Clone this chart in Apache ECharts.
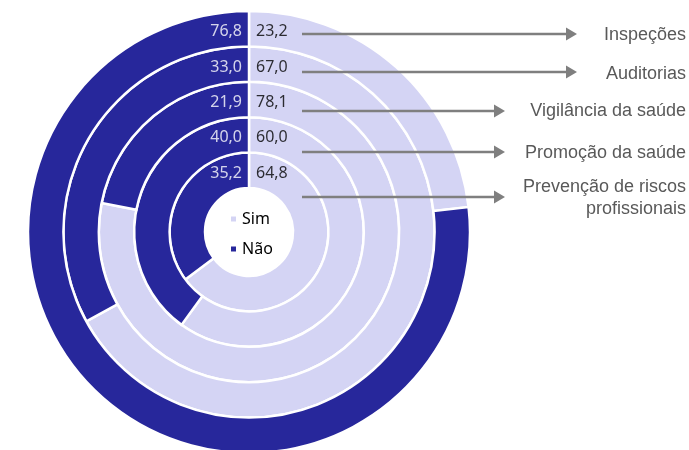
<!DOCTYPE html>
<html><head><meta charset="utf-8">
<script src="https://cdn.jsdelivr.net/npm/echarts@6/dist/echarts.min.js"></script>
<style>html,body{margin:0;padding:0;background:#fff}#c{width:689px;height:450px}</style>
</head><body><div id="c"></div>
<script>
// Rings, inner -> outer
const categories = ['Prevenção de riscos profissionais', 'Promoção da saúde', 'Vigilância da saúde', 'Auditorias', 'Inspeções'];
const simValues = [64.8, 60.0, 78.1, 67.0, 23.2];
const naoValues = [35.2, 40.0, 21.9, 33.0, 76.8];
const seriesNames = ['Sim', 'Não'];
// Annotation texts, top -> bottom (outer ring -> inner ring)
const annotationLabels = ['Inspeções', 'Auditorias', 'Vigilância da saúde', 'Promoção da saúde', 'Prevenção de riscos\nprofissionais'];

const LIGHT = '#D4D4F4', DARK = '#27279B', ARROW = '#7F7F7F', TEXTGRAY = '#595959';
const fmt = v => v.toFixed(1).replace('.', ',');

// annotation layout (positions only)
const arrowStartX = 302;
const arrowY = [34, 72, 111, 152, 197];
const arrowTip = [577, 577, 505, 505, 505];
const textY = [35, 74, 111, 153, 198];
const textRight = 686;

const graphics = [];
annotationLabels.forEach((t, i) => {
  const y = arrowY[i], tip = arrowTip[i];
  graphics.push({type: 'line', z: 100, silent: true,
    shape: {x1: arrowStartX, y1: y, x2: tip - 9, y2: y},
    style: {stroke: ARROW, lineWidth: 2.5}});
  graphics.push({type: 'polygon', z: 100, silent: true,
    shape: {points: [[tip - 11, y - 6.5], [tip, y], [tip - 11, y + 6.5]]},
    style: {fill: ARROW}});
  graphics.push({type: 'text', z: 100, silent: true,
    style: {text: t, x: textRight, y: textY[i], fill: TEXTGRAY,
      font: '18px "Liberation Sans", Arial, sans-serif', align: 'right', verticalAlign: 'middle', lineHeight: 22}});
});

const chart = echarts.init(document.getElementById('c'), null, {renderer: 'canvas'});
chart.setOption({
  animation: false,
  backgroundColor: '#fff',
  polar: {center: [249, 232], radius: [44, 221]},
  angleAxis: {type: 'value', min: 0, max: 100, startAngle: 90, clockwise: true, show: false},
  radiusAxis: {type: 'category', data: categories, show: false},
  legend: {
    data: seriesNames, orient: 'vertical', left: 224, top: 206,
    itemWidth: 7, itemHeight: 7, itemGap: 14, icon: 'rect', selectedMode: false, padding: 5,
    textStyle: {fontSize: 16, fontFamily: '"Noto Sans", sans-serif', color: '#000', padding: [0, 0, 0, 0]}
  },
  series: [
    {type: 'bar', name: seriesNames[0], coordinateSystem: 'polar', stack: 'r', data: simValues,
      barCategoryGap: '0%', itemStyle: {color: LIGHT, borderColor: '#fff', borderWidth: 2.5}},
    {type: 'bar', name: seriesNames[1], coordinateSystem: 'polar', stack: 'r', data: naoValues,
      barCategoryGap: '0%', itemStyle: {color: DARK, borderColor: '#fff', borderWidth: 2.5}},
    {type: 'scatter', name: 'simLabels', coordinateSystem: 'polar', symbolSize: 0, silent: true, z: 5,
      data: categories.map((c, i) => [i, 0]),
      label: {show: true, position: 'right', distance: 7, offset: [0, 3],
        formatter: p => fmt(simValues[p.dataIndex]),
        color: '#000', fontSize: 16, fontFamily: '"Noto Sans", sans-serif'}},
    {type: 'scatter', name: 'naoLabels', coordinateSystem: 'polar', symbolSize: 0, silent: true, z: 5,
      data: categories.map((c, i) => [i, 0]),
      label: {show: true, position: 'left', distance: 7, offset: [0, 3],
        formatter: p => fmt(naoValues[p.dataIndex]),
        color: '#fff', fontSize: 16, fontFamily: '"Noto Sans", sans-serif'}}
  ],
  graphic: graphics
});
</script></body></html>
